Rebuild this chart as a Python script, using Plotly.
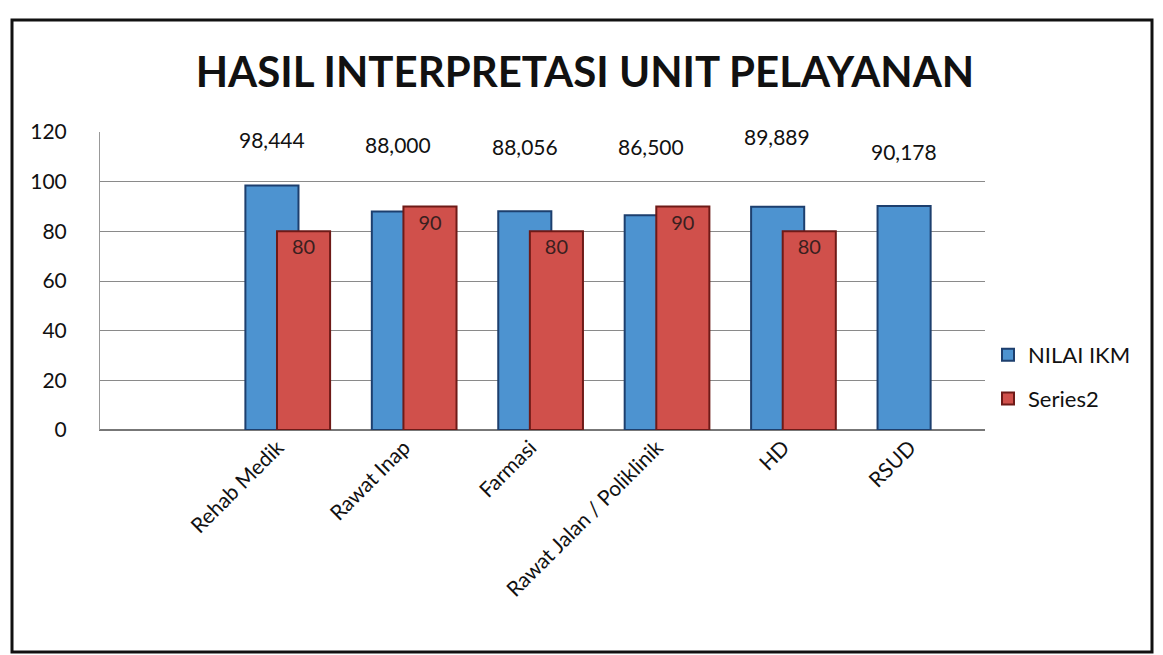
import plotly.graph_objects as go

categories = ["Rehab Medik", "Rawat Inap", "Farmasi", "Rawat Jalan / Poliklinik", "HD", "RSUD"]
nilai_ikm = [98.444, 88.000, 88.056, 86.500, 89.889, 90.178]
series2 = [80, 90, 80, 90, 80, None]
nilai_labels = ["98,444", "88,000", "88,056", "86,500", "89,889", "90,178"]
series2_labels = ["80", "90", "80", "90", "80", ""]
y_ticks = [0, 20, 40, 60, 80, 100, 120]

W, H = 1163, 655
ml, mr, mt, mb = 100, 178, 132, 225
pw, ph = W - ml - mr, H - mt - mb

def px_x(x):
    return (x - ml) / pw

def px_y(y):
    return 1 - (y - mt) / ph

fig = go.Figure()
fig.add_trace(go.Bar(
    x=categories, y=nilai_ikm, name="NILAI IKM", legendgroup="a",
    width=0.42, offset=-0.35,
    marker=dict(color="#4d93d0", line=dict(color="#1d3f6e", width=2)),
))
fig.add_trace(go.Bar(
    x=categories, y=series2, name="Series2", legendgroup="b",
    width=0.42, offset=-0.1,
    text=series2_labels, textposition="inside", insidetextanchor="end",
    textangle=0,
    textfont=dict(family="Lato", size=20, color="#3a1f1f"),
    marker=dict(color="#d0504b", line=dict(color="#6e1a17", width=2)),
))

label_y = [117, 115, 114, 114, 118, 112]
for c, lab, ly in zip(categories, nilai_labels, label_y):
    fig.add_annotation(x=c, y=ly, text=lab, showarrow=False, xshift=-18,
                       font=dict(family="Lato", size=21, color="#111"),
                       bgcolor="white")

fig.update_layout(
    width=W, height=H,
    margin=dict(l=ml, r=mr, t=mt, b=mb),
    paper_bgcolor="white", plot_bgcolor="white",
    barmode="overlay",
    title=dict(text="<b>HASIL INTERPRETASI UNIT PELAYANAN</b>", x=0.503, xanchor="center",
               y=1 - 72 / H, yanchor="middle",
               font=dict(family="Lato", size=42, color="#111")),
    legend=dict(x=px_x(988), y=px_y(334), xanchor="left", yanchor="top",
                font=dict(family="Lato", size=22, color="#111"),
                tracegroupgap=12, itemwidth=30, bgcolor="rgba(0,0,0,0)"),
    showlegend=True,
)
fig.update_xaxes(range=[-1.5, 5.5], tickangle=-45, showgrid=False,
                 tickfont=dict(family="Lato", size=21, color="#111"),
                 ticklabelshift=-12, ticklabelstandoff=-4,
                 showline=True, linecolor="#777", linewidth=1)
fig.update_yaxes(range=[0, 120], tickvals=y_ticks, showgrid=True, gridcolor="#8a8a8a",
                 gridwidth=1, zeroline=True, zerolinecolor="#777",
                 showline=True, linecolor="#999", linewidth=1, ticks="",
                 ticklabelstandoff=28,
                 tickfont=dict(family="Lato", size=21, color="#111"))
fig.add_shape(type="rect", xref="paper", yref="paper",
              x0=px_x(12), x1=px_x(1152), y0=px_y(652), y1=px_y(20),
              line=dict(color="#111", width=3), fillcolor="rgba(0,0,0,0)", layer="below")
fig.write_html("out.html", config={"displayModeBar": False},
               post_script="document.body.style.margin='0px';")
